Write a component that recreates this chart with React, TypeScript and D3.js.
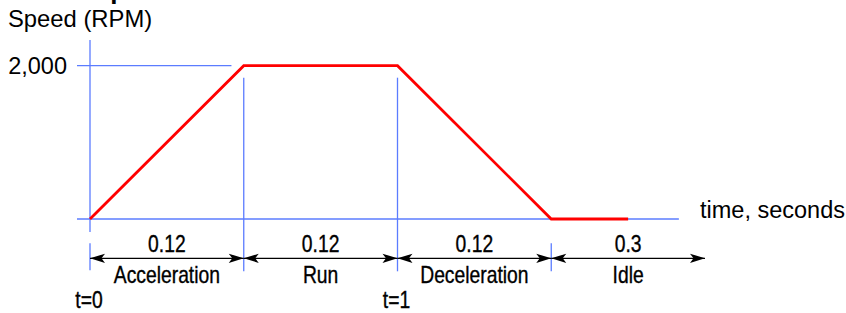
import { useEffect, useRef } from 'react';
import * as d3 from 'd3';

// segment layout (x in "segment units": one unit per phase)
const phases = ['Acceleration', 'Run', 'Deceleration', 'Idle'];
const durations = ['0.12', '0.12', '0.12', '0.3'];
const phaseBounds = [0, 1, 2, 3, 4];

// speed profile
const profileX = [0, 1, 2, 3, 3.5];
const profileRPM = [0, 2000, 2000, 0, 0];

const yTicks = [2000];
const timeMarks = [
  { x: 0, label: 't=0' },
  { x: 2, label: 't=1' },
];

const WIDTH = 846;
const HEIGHT = 313;
const BLUE = '#5b7cff';
const FONT = '"Liberation Sans", Arial, Helvetica, sans-serif';
const NARROW = 0.84;

export default function App() {
  const svgRef = useRef<SVGSVGElement>(null);

  useEffect(() => {
    if (!svgRef.current) return;
    const svg = d3.select(svgRef.current);
    svg.selectAll('*').remove();

    const x = d3.scaleLinear().domain([0, 4]).range([90, 705]);
    const y = d3.scaleLinear().domain([0, 2000]).range([219, 65.7]);

    const arrowY = 258.3;

    svg.append('rect')
      .attr('width', WIDTH)
      .attr('height', HEIGHT)
      .attr('fill', '#fff');

    // cut-off title at the very top
    svg.append('text')
      .attr('x', 93)
      .attr('y', -1.5)
      .attr('font-family', FONT)
      .attr('font-weight', 'bold')
      .attr('font-size', '26px')
      .attr('fill', '#000')
      .text('Speed Profile');

    // axis & guide lines
    const blue = svg.append('g')
      .attr('stroke', BLUE)
      .attr('stroke-width', 1.3)
      .attr('fill', 'none');

    // baseline (time axis)
    blue.append('line')
      .attr('x1', x(0) - 13).attr('x2', x(3.83))
      .attr('y1', y(0)).attr('y2', y(0));

    // 2,000 guide
    yTicks.forEach(t => {
      blue.append('line')
        .attr('x1', x(0) - 13).attr('x2', x(0.92))
        .attr('y1', y(t)).attr('y2', y(t));
    });

    // speed axis
    blue.append('line')
      .attr('x1', x(0)).attr('x2', x(0))
      .attr('y1', 40).attr('y2', y(0) + 13);
    blue.append('line')
      .attr('x1', x(0)).attr('x2', x(0))
      .attr('y1', arrowY - 15).attr('y2', arrowY + 12);

    // phase boundaries
    phaseBounds.slice(1, 3).forEach(b => {
      blue.append('line')
        .attr('x1', x(b)).attr('x2', x(b))
        .attr('y1', y(2000) + 12).attr('y2', arrowY + 13);
    });
    blue.append('line')
      .attr('x1', x(3)).attr('x2', x(3))
      .attr('y1', arrowY - 15).attr('y2', arrowY + 13);

    // speed profile
    const line = d3.line<number>()
      .x((_, i) => x(profileX[i]))
      .y(d => y(d));

    svg.append('path')
      .datum(profileRPM)
      .attr('d', line)
      .attr('fill', 'none')
      .attr('stroke', '#ff0000')
      .attr('stroke-width', 2.8)
      .attr('stroke-linejoin', 'miter');

    // dimension arrows
    const arrows = svg.append('g');
    const head = (tip: number, dir: number) =>
      `M${tip},${arrowY} L${tip + dir * 15},${arrowY - 4.6} L${tip + dir * 11.5},${arrowY} L${tip + dir * 15},${arrowY + 4.6} Z`;

    phases.forEach((_, i) => {
      const x0 = x(phaseBounds[i]);
      const x1 = x(phaseBounds[i + 1]);
      arrows.append('line')
        .attr('x1', x0).attr('x2', x1)
        .attr('y1', arrowY).attr('y2', arrowY)
        .attr('stroke', '#000')
        .attr('stroke-width', 1.2);
      arrows.append('path').attr('d', head(x0, 1)).attr('fill', '#000');
      arrows.append('path').attr('d', head(x1, -1)).attr('fill', '#000');
    });

    // narrow labels
    const narrowText = (cx: number, cy: number, txt: string) => {
      svg.append('g')
        .attr('transform', `translate(${cx},${cy}) scale(${NARROW},1)`)
        .append('text')
        .attr('text-anchor', 'middle')
        .attr('font-family', FONT)
        .attr('font-size', '23px')
        .attr('fill', '#000')
        .attr('stroke', '#000')
        .attr('stroke-width', 0.35)
        .text(txt);
    };

    phases.forEach((p, i) => {
      const mid = x((phaseBounds[i] + phaseBounds[i + 1]) / 2);
      narrowText(mid, 252, durations[i]);
      narrowText(mid, 283, p);
    });

    timeMarks.forEach(m => narrowText(x(m.x) - 1, 308, m.label));

    // axis titles
    svg.append('text')
      .attr('x', 8)
      .attr('y', 27)
      .attr('font-family', FONT)
      .attr('font-size', '23.8px')
      .attr('fill', '#000')
      .text('Speed (RPM)');

    yTicks.forEach(t => {
      svg.append('text')
        .attr('x', 67)
        .attr('y', y(t) + 8)
        .attr('text-anchor', 'end')
        .attr('font-family', FONT)
        .attr('font-size', '23.5px')
        .attr('fill', '#000')
        .text(d3.format(',')(t));
    });

    svg.append('text')
      .attr('x', 700)
      .attr('y', 218)
      .attr('font-family', FONT)
      .attr('font-size', '23.5px')
      .attr('fill', '#000')
      .text('time, seconds');
  }, []);

  return (
    <svg
      ref={svgRef}
      width={WIDTH}
      height={HEIGHT}
      style={{ position: 'absolute', left: 0, top: 0, display: 'block' }}
    />
  );
}
